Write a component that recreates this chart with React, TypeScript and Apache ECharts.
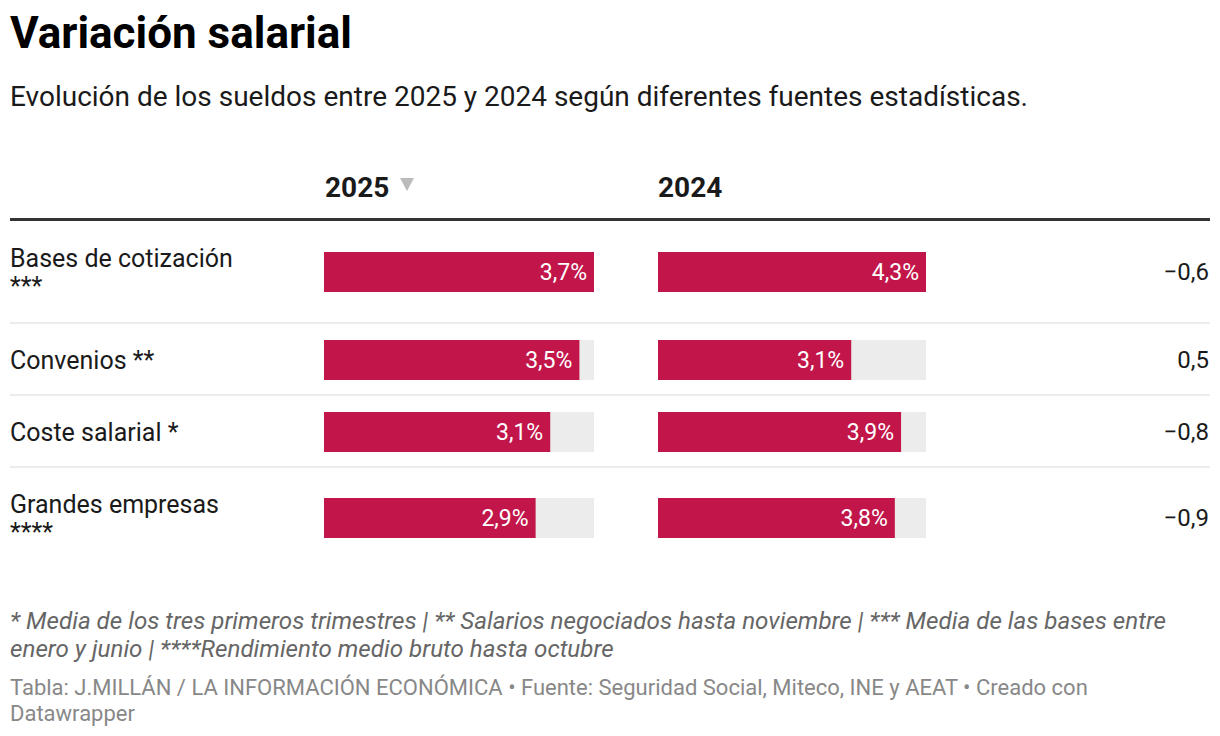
import React, { useEffect, useRef } from "react";
import * as echarts from "echarts";

const categories = ["Bases de cotización\n***", "Convenios **", "Coste salarial *", "Grandes empresas\n****"];
const columns = ["2025", "2024"];
const values2025 = [3.7, 3.5, 3.1, 2.9];
const values2024 = [4.3, 3.1, 3.9, 3.8];
const diffs = [-0.6, 0.5, -0.8, -0.9];

const titleText = "Variación salarial";
const subtitleText = "Evolución de los sueldos entre 2025 y 2024 según diferentes fuentes estadísticas.";
const notesText = "* Media de los tres primeros trimestres | ** Salarios negociados hasta noviembre | *** Media de las bases entre\nenero y junio | ****Rendimiento medio bruto hasta octubre";
const sourceText = "Tabla: J.MILLÁN / LA INFORMACIÓN ECONÓMICA • Fuente: Seguridad Social, Miteco, INE y AEAT • Creado con\nDatawrapper";

const FONT = "Roboto";
const RED = "#c2164a";
const rowBarTop = [252, 340, 412, 498];
const BAR_H = 40;
const colLeft = [324, 658];
const colWidth = [270, 268];
const separators = [323, 395, 467];

const fmt = (v: number) => v.toFixed(1).replace(".", ",");
const fmtDiff = (v: number) => (v < 0 ? "\u2212" : "") + Math.abs(v).toFixed(1).replace(".", ",");

export default function App() {
  const ref = useRef<HTMLDivElement>(null);
  useEffect(() => {
    if (!ref.current) return;
    const chart = echarts.init(ref.current, null, { renderer: "svg" });
    const colValues = [values2025, values2024];
    const grids: any[] = [];
    const xAxes: any[] = [];
    const yAxes: any[] = [];
    const series: any[] = [];
    let idx = 0;
    colValues.forEach((vals, c) => {
      const maxV = Math.max(...vals);
      vals.forEach((v, r) => {
        grids.push({ left: colLeft[c], top: rowBarTop[r], width: colWidth[c], height: BAR_H, containLabel: false });
        xAxes.push({ type: "value", gridIndex: idx, min: 0, max: maxV, show: false });
        yAxes.push({
          type: "category",
          gridIndex: idx,
          data: [categories[r]],
          axisLine: { show: false },
          axisTick: { show: false },
          splitLine: { show: false },
          axisLabel: c === 0
            ? { show: true, align: "left", margin: colLeft[0] - 10, fontFamily: FONT, fontSize: 25, color: "#1a1a1a", lineHeight: 28 }
            : { show: false },
        });
        series.push({
          type: "bar",
          xAxisIndex: idx,
          yAxisIndex: idx,
          data: [v],
          barWidth: BAR_H,
          itemStyle: { color: RED },
          showBackground: true,
          backgroundStyle: { color: "#ececec" },
          label: {
            show: true,
            position: "insideRight",
            distance: 7,
            color: "#fff",
            fontFamily: FONT,
            fontSize: 23,
            formatter: (p: any) => fmt(p.value) + "%",
          },
          silent: true,
        });
        idx++;
      });
    });

    const graphics: any[] = [
      { type: "text", left: 10, top: 11, style: { text: titleText, font: `bold 44px ${FONT}`, fill: "#000" } },
      { type: "text", left: 10, top: 82, style: { text: subtitleText, font: `28px ${FONT}`, fill: "#1a1a1a" } },
      { type: "text", x: colLeft[0] + 1, y: 187, style: { text: columns[0], font: `bold 28px ${FONT}`, fill: "#1a1a1a", verticalAlign: "middle" } },
      { type: "polygon", shape: { points: [[400, 178], [414, 178], [407, 191]] }, style: { fill: "#bbbbbb" } },
      { type: "text", x: colLeft[1], y: 187, style: { text: columns[1], font: `bold 28px ${FONT}`, fill: "#1a1a1a", verticalAlign: "middle" } },
      { type: "rect", shape: { x: 10, y: 218, width: 1200, height: 3 }, style: { fill: "#333" } },
      ...separators.map((y) => ({ type: "rect", shape: { x: 10, y: y - 1, width: 1200, height: 2 }, style: { fill: "#ececec" } })),
      ...diffs.map((d, r) => ({
        type: "text",
        x: 1209,
        y: rowBarTop[r] + BAR_H / 2,
        style: { text: fmtDiff(d), font: `24px ${FONT}`, fill: "#1a1a1a", align: "right", verticalAlign: "middle" },
      })),
      { type: "text", left: 10, top: 607, style: { text: notesText, font: `italic 24.2px ${FONT}`, fill: "#666", lineHeight: 28 } },
      { type: "text", left: 10, top: 674, style: { text: sourceText, font: `22px ${FONT}`, fill: "#888", lineHeight: 26 } },
    ];

    chart.setOption({
      animation: false,
      backgroundColor: "#fff",
      textStyle: { fontFamily: FONT },
      grid: grids,
      xAxis: xAxes,
      yAxis: yAxes,
      series,
      graphic: graphics,
    });
    return () => chart.dispose();
  }, []);
  return <div ref={ref} style={{ position: "fixed", left: 0, top: 0, width: 1220, height: 736 }} />;
}
